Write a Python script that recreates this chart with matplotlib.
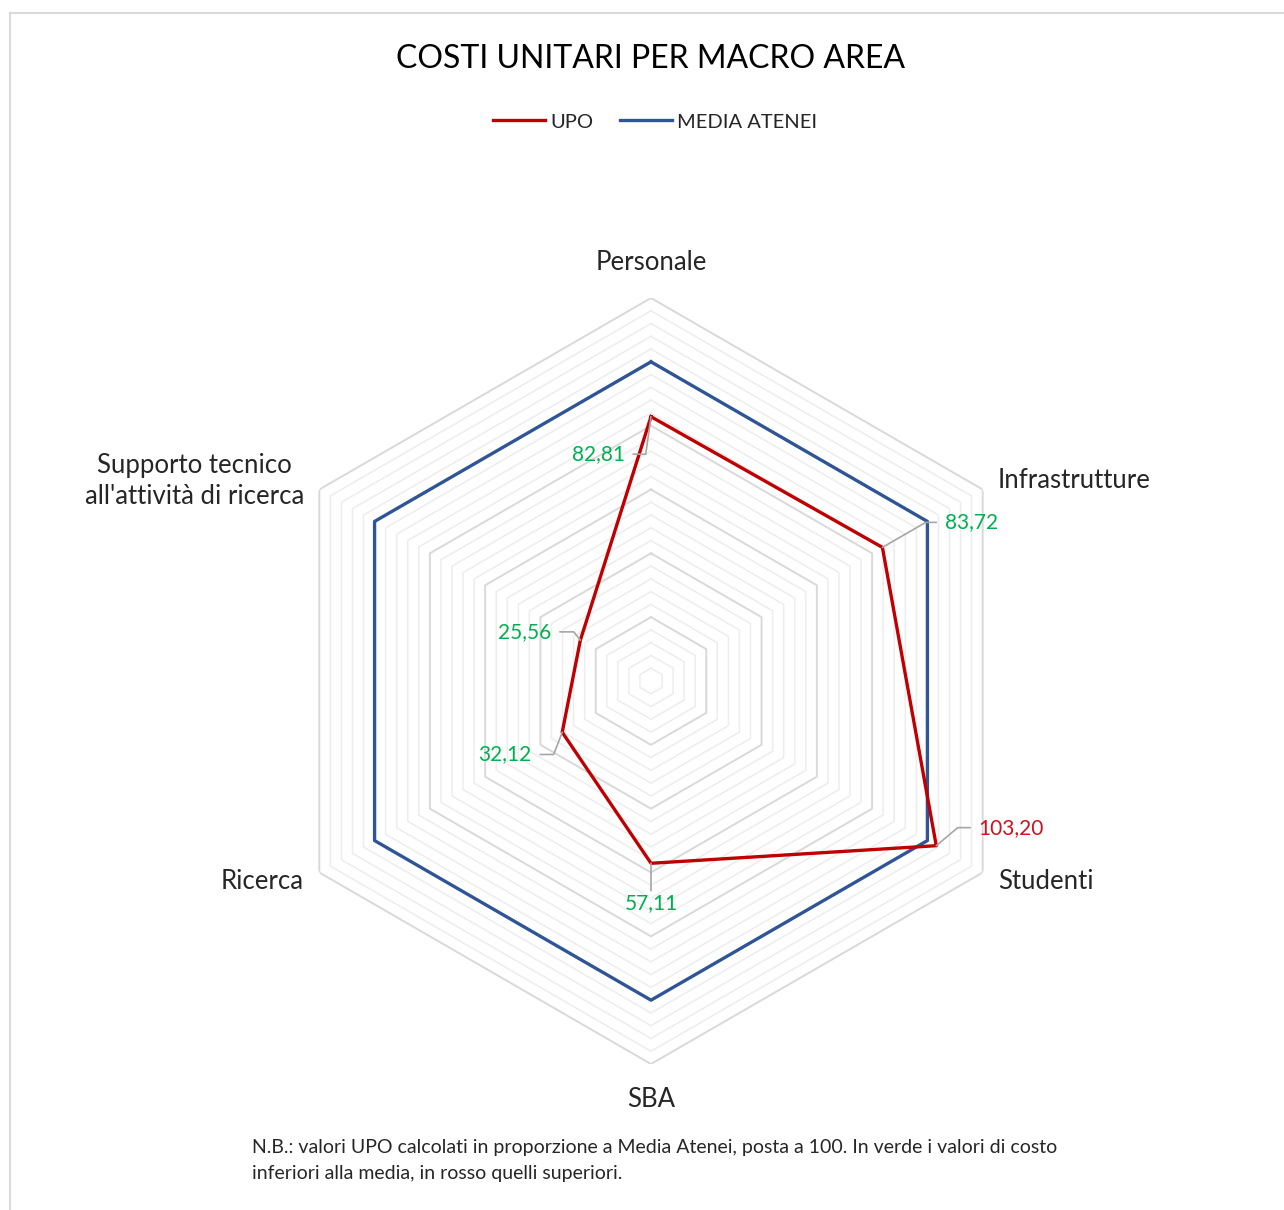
import numpy as np
import matplotlib
matplotlib.use("Agg")
import matplotlib.pyplot as plt
from matplotlib.lines import Line2D

plt.rcParams['font.family'] = ['Lato', 'DejaVu Sans']

# data
categories = ["Personale", "Infrastrutture", "Studenti", "SBA", "Ricerca",
              "Supporto tecnico\nall'attività di ricerca"]
upo = [82.81, 83.72, 103.20, 57.11, 32.12, 25.56]
media = [100, 100, 100, 100, 100, 100]
upo_labels = ["82,81", "83,72", "103,20", "57,11", "32,12", "25,56"]

# style
RED = "#C00000"
BLUE = "#2F5597"
GREEN = "#00B050"
LBLRED = "#D01020"
TXT = "#262626"

fig = plt.figure(figsize=(12.84, 12.10), dpi=100)
fig.patch.set_facecolor("white")

# chart border (light grey, partially cropped)
fig.add_artist(Line2D([10/1284, 1.01], [1-13/1210, 1-13/1210], color="#D9D9D9", lw=1.5))
fig.add_artist(Line2D([10/1284, 10/1284], [1-13/1210, -0.01], color="#D9D9D9", lw=1.5))

ax = fig.add_axes([(651-383)/1284, (1210-681-383)/1210, 766/1284, 766/1210], projection="polar")
ax.set_theta_offset(np.pi/2)
ax.set_theta_direction(-1)
ax.set_ylim(0, 120)
ax.grid(False)
ax.set_xticks([])
ax.set_yticks([])
ax.spines["polar"].set_visible(False)
ax.patch.set_alpha(0)

n = len(categories)
theta = np.linspace(0, 2*np.pi, n, endpoint=False)
theta_c = np.append(theta, theta[0])

# hexagonal gridlines
for lev in range(4, 121, 4):
    major = lev % 20 == 0
    ax.plot(theta_c, [lev]*(n+1), color="#D9D9D9" if major else "#EDEDED",
            lw=1.4 if major else 1.1, zorder=1)

ax.plot(theta_c, media + media[:1], color=BLUE, lw=2.4, zorder=3, label="MEDIA ATENEI")
ax.plot(theta_c, upo + upo[:1], color=RED, lw=2.4, zorder=4, label="UPO")

# category labels
for t, c in zip(theta, categories):
    s = np.sin(t)
    if abs(s) < 0.01:
        ax.text(t, 131, c, ha="center", va="center", fontsize=18.5, color=TXT)
    else:
        ax.text(t, 125.5, c, ha="left" if s > 0 else "right", va="center",
                fontsize=18.5, color=TXT, linespacing=1.3, multialignment="center")

# data labels with leader lines (offset in points, elbow angle)
label_pos = [(-38, -27, 82), (64, 18, 30), (54, 13, 40), (0, -29, None), (-41, -16, 69), (-40, 6, 128)]
for t, v, lab, (dx, dy, ang) in zip(theta, upo, upo_labels, label_pos):
    col = LBLRED if v > 100 else GREEN
    if ang is None:
        ap = dict(arrowstyle="-", color="#A6A6A6", lw=1.2, shrinkA=0, shrinkB=0,
                  relpos=(0.5, 1.0))
    else:
        ap = dict(arrowstyle="-", color="#A6A6A6", lw=1.2, shrinkA=4, shrinkB=0,
                  connectionstyle="angle,angleA=0,angleB=%d,rad=0" % ang)
    ax.annotate(lab, xy=(t, v), xytext=(dx, dy), textcoords="offset points",
                ha="center", va="center", fontsize=15, color=col,
                arrowprops=ap, zorder=6)

fig.text(651/1284, 1-59/1210, "COSTI UNITARI PER MACRO AREA", ha="center", va="center",
         fontsize=23, color="black")

handles = [Line2D([], [], color=RED, lw=2.4), Line2D([], [], color=BLUE, lw=2.4)]
fig.legend(handles, ["UPO", "MEDIA ATENEI"], loc="center", bbox_to_anchor=(655/1284, 1-122/1210),
           ncol=2, frameon=False, fontsize=14.5, handlelength=2.6, handletextpad=0.25,
           columnspacing=1.3, labelcolor=TXT)

fig.text(252/1284, 1-1148/1210,
         "N.B.: valori UPO calcolati in proporzione a Media Atenei, posta a 100. In verde i valori di costo",
         ha="left", va="center", fontsize=14, color=TXT)
fig.text(252/1284, 1-1174/1210, "inferiori alla media, in rosso quelli superiori.",
         ha="left", va="center", fontsize=14, color=TXT)

fig.savefig("out.png", dpi=100, facecolor="white")
